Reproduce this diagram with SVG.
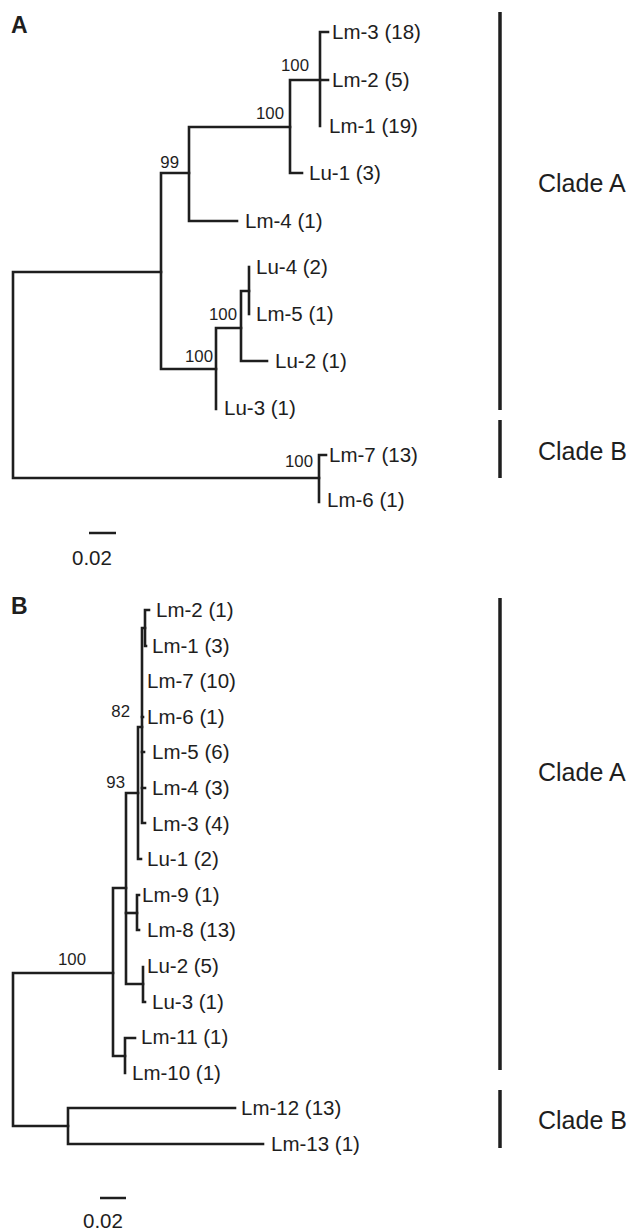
<svg xmlns="http://www.w3.org/2000/svg" width="636" height="1230" viewBox="0 0 636 1230">
<style>
.br{fill:none;stroke:#1e1e1e;stroke-width:2.6;stroke-linecap:square;stroke-linejoin:miter}
.bar{stroke:#1e1e1e;stroke-width:3.5}
.lf{font-family:"Liberation Sans",Arial,sans-serif;font-size:20.5px;fill:#1e1e1e}
.bs{font-family:"Liberation Sans",Arial,sans-serif;font-size:16.8px;fill:#1e1e1e;text-anchor:end}
.cl{font-family:"Liberation Sans",Arial,sans-serif;font-size:25px;fill:#1e1e1e}
.pl{font-family:"Liberation Sans",Arial,sans-serif;font-size:23px;font-weight:bold;fill:#1e1e1e}
</style>
<rect width="636" height="1230" fill="#ffffff"/>
<g id="panelA-label"><text class="pl" x="11" y="33">A</text></g>
<g id="connectorsA">
<path class="br" d="M161,272 H13 V478 H319"/>
<path class="br" d="M189,173 H161 V369 H216"/>
<path class="br" d="M290,127 H189 V221 H237"/>
<path class="br" d="M320,80 H290 V173 H302"/>
<path class="br" d="M328,32 H320 V126 M320,80 H328"/>
<path class="br" d="M241,328 H216 V409"/>
<path class="br" d="M249,291 H241 V361 H267"/>
<path class="br" d="M249,267 V314"/>
<path class="br" d="M326,455 H319 V502"/>
</g>
<g id="bootA">
<text class="bs" x="309" y="71">100</text>
<text class="bs" x="284" y="119">100</text>
<text class="bs" x="179" y="168">99</text>
<text class="bs" x="237" y="320">100</text>
<text class="bs" x="213" y="362">100</text>
<text class="bs" x="313" y="467">100</text>
</g>
<g id="leavesA">
<text class="lf" x="332" y="39">Lm-3 (18)</text>
<text class="lf" x="332" y="87">Lm-2 (5)</text>
<text class="lf" x="329" y="133">Lm-1 (19)</text>
<text class="lf" x="309" y="180">Lu-1 (3)</text>
<text class="lf" x="245" y="228">Lm-4 (1)</text>
<text class="lf" x="256" y="274">Lu-4 (2)</text>
<text class="lf" x="256" y="321">Lm-5 (1)</text>
<text class="lf" x="275" y="368">Lu-2 (1)</text>
<text class="lf" x="224" y="415">Lu-3 (1)</text>
<text class="lf" x="329" y="462">Lm-7 (13)</text>
<text class="lf" x="327" y="507">Lm-6 (1)</text>
</g>
<g id="cladesA">
<line class="bar" x1="500" y1="12" x2="500" y2="410"/>
<text class="cl" x="538" y="192">Clade A</text>
<line class="bar" x1="500" y1="420" x2="500" y2="478"/>
<text class="cl" x="538" y="460">Clade B</text>
</g>
<g id="scaleA">
<line class="bar" x1="89" y1="533" x2="116" y2="533" style="stroke-width:2.5"/>
<text class="lf" x="72" y="565">0.02</text>
</g>

<g id="panelB-label"><text class="pl" x="11" y="614">B</text></g>
<g id="connectorsB">
<path class="br" d="M113,973 H13 V1126 H68"/>
<path class="br" d="M235,1108 H68 V1144 H263"/>
<path class="br" d="M126,888 H113 V1056 H125"/>
<path class="br" d="M135,1038 H125 V1073"/>
<path class="br" d="M138,793 H126 V984 H143"/>
<path class="br" d="M143,967 V1002 H145"/>
<path class="br" d="M126,913 H137"/>
<path class="br" d="M139,895 H137 V930 H139"/>
<path class="br" d="M142,727 H138 V859 H141"/>
<path class="br" d="M145,628 H142 V823 H145"/>
<path class="br" d="M142,788 H145 M142,752 H144 M142,717 H143"/>
<path class="br" d="M149,610 H145 V646 H146"/>
</g>
<g id="bootB">
<text class="bs" x="130" y="717">82</text>
<text class="bs" x="125" y="788">93</text>
<text class="bs" x="86" y="965">100</text>
</g>
<g id="leavesB">
<text class="lf" x="156" y="617">Lm-2 (1)</text>
<text class="lf" x="152" y="653">Lm-1 (3)</text>
<text class="lf" x="147" y="688">Lm-7 (10)</text>
<text class="lf" x="147" y="724">Lm-6 (1)</text>
<text class="lf" x="152" y="759">Lm-5 (6)</text>
<text class="lf" x="152" y="795">Lm-4 (3)</text>
<text class="lf" x="152" y="831">Lm-3 (4)</text>
<text class="lf" x="147" y="866">Lu-1 (2)</text>
<text class="lf" x="142" y="902">Lm-9 (1)</text>
<text class="lf" x="147" y="937">Lm-8 (13)</text>
<text class="lf" x="147" y="973">Lu-2 (5)</text>
<text class="lf" x="152" y="1009">Lu-3 (1)</text>
<text class="lf" x="141" y="1044">Lm-11 (1)</text>
<text class="lf" x="132" y="1080">Lm-10 (1)</text>
<text class="lf" x="241" y="1115">Lm-12 (13)</text>
<text class="lf" x="271" y="1151">Lm-13 (1)</text>
</g>
<g id="cladesB">
<line class="bar" x1="500" y1="598" x2="500" y2="1070"/>
<text class="cl" x="538" y="781">Clade A</text>
<line class="bar" x1="500" y1="1090" x2="500" y2="1148"/>
<text class="cl" x="538" y="1129">Clade B</text>
</g>
<g id="scaleB">
<line class="bar" x1="100" y1="1198" x2="126" y2="1198" style="stroke-width:2.5"/>
<text class="lf" x="83" y="1228">0.02</text>
</g>
</svg>
